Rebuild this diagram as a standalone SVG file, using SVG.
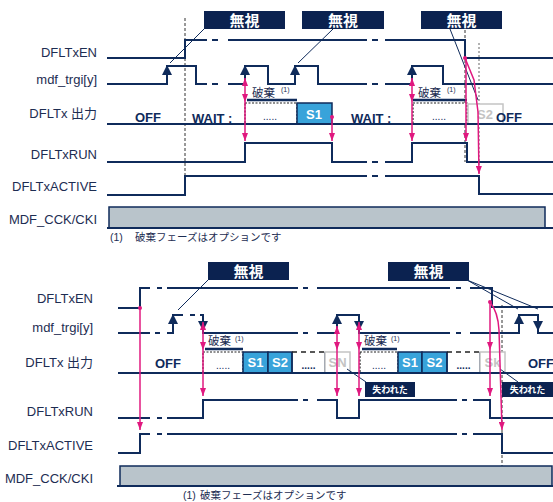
<svg xmlns="http://www.w3.org/2000/svg" width="553" height="502" viewBox="0 0 553 502">
<style>
.sig{fill:none;stroke:#0f2b5b;stroke-width:2}
.lbl{font-family:"Liberation Sans","Noto Sans CJK JP",sans-serif;font-size:13px;fill:#1d2d52;text-anchor:end}
.bt{font-family:"Liberation Sans",sans-serif;font-weight:bold;font-size:13px;fill:#0f2b5b}
.st{font-family:"Liberation Sans",sans-serif;font-weight:bold;font-size:13px;fill:#fff;text-anchor:middle}
.gt{font-family:"Liberation Sans",sans-serif;font-weight:bold;font-size:13px;fill:#c4c4c4;text-anchor:middle}
.dots{font-family:"Liberation Sans",sans-serif;font-size:10px;fill:#0f2b5b;text-anchor:middle}
.pk{stroke:#e0187f;stroke-width:1.5;fill:none}
.nb{fill:#0b2250}
.nt{font-family:"Noto Sans CJK JP",sans-serif;font-weight:bold;font-size:15px;fill:#fff;text-anchor:middle}
.lt{font-family:"Noto Sans CJK JP",sans-serif;font-weight:bold;font-size:9px;fill:#fff;text-anchor:middle}
.hk{font-family:"Noto Sans CJK JP",sans-serif;font-size:11.5px;fill:#1d2d52}
.sup{font-family:"Liberation Sans",sans-serif;font-size:7px;fill:#1d2d52}
.fn{font-family:"Liberation Sans","Noto Sans CJK JP",sans-serif;font-size:10.5px;fill:#1d2d52}
.co{stroke:#0f2b5b;stroke-width:1;fill:none}
.vd{stroke:#333;stroke-width:1;stroke-dasharray:3,2;fill:none}
.dbx{fill:#fff;stroke:#222;stroke-width:1.2;stroke-dasharray:2,1.5}
.blue{fill:#38a3da;stroke:#0f2b5b;stroke-width:1.5}
.grey{fill:#fff;stroke:#c4c4c4;stroke-width:1.5}
.ul{stroke:#0f2b5b;stroke-width:2.5}
.cck{fill:#b9c4cb;stroke:#0f2b5b;stroke-width:1.5}
</style>
<defs>
<marker id="pa" viewBox="0 0 8 6" refX="8" refY="3" markerWidth="8" markerHeight="6" markerUnits="userSpaceOnUse" orient="auto-start-reverse"><path d="M0,0 L8,3 L0,6 z" fill="#e0187f"/></marker>
<path id="tu" d="M0,0 L5,10 L-5,10 Z" fill="#0f2b5b"/>
<path id="td" d="M0,0 L5,-10 L-5,-10 Z" fill="#0f2b5b"/>
</defs>

<!-- ================= TOP DIAGRAM ================= -->
<g id="top-labels">
<text class="lbl" x="97" y="57">DFLTxEN</text>
<text class="lbl" x="97" y="84">mdf_trgi[y]</text>
<text class="lbl" x="97" y="118">DFLTx 出力</text>
<text class="lbl" x="97" y="159">DFLTxRUN</text>
<text class="lbl" x="97" y="191">DFLTxACTIVE</text>
<text class="lbl" x="97" y="224">MDF_CCK/CKI</text>
</g>

<g id="top-guides">
<path class="vd" d="M185,18 V197"/>
<path class="vd" d="M465,25 V162"/>
<path d="M479,43 V195" stroke="#999" stroke-width="1.5" stroke-dasharray="2,2" fill="none"/>
</g>

<g id="top-en"><path class="sig" d="M107,58 H185 V40 H207 M212,40 H218 M228,40 H367 M372,40 H378 M385,40 H465 V58 H553"/></g>
<g id="top-trgi">
<path class="sig" d="M107,84 H167 V66 H196 V84 H207 M212,84 H218 M228,84 H245 V66 H268 V84 H295 V66 H318 V84 H367 M372,84 H378 M385,84 H412 V66 H443 V84 H553"/>
<use href="#tu" x="167" y="65"/><use href="#tu" x="245" y="65"/><use href="#tu" x="295" y="65"/><use href="#tu" x="412" y="65"/>
</g>

<g id="top-out">
<rect class="dbx" x="245" y="103" width="52" height="21"/>
<text class="dots" x="270" y="120">.....</text>
<rect class="blue" x="297" y="103" width="35" height="21"/>
<text class="st" x="314" y="119">S1</text>
<rect class="dbx" x="413" y="103" width="54" height="21"/>
<text class="dots" x="439" y="120">.....</text>
<rect class="grey" x="468" y="104" width="35" height="20"/>
<text class="gt" x="485" y="119">S2</text>
<path class="sig" d="M107,124 H553"/>
<text class="bt" x="135" y="122">OFF</text>
<text class="bt" x="192" y="123">WAIT :</text>
<text class="bt" x="351" y="123">WAIT :</text>
<text class="bt" x="496" y="122">OFF</text>
<line class="ul" x1="247" y1="100" x2="297" y2="100"/>
<text class="hk" x="252" y="97">破棄</text><text class="sup" x="281" y="92">(1)</text>
<line class="ul" x1="413" y1="100" x2="467" y2="100"/>
<text class="hk" x="418" y="97">破棄</text><text class="sup" x="447" y="92">(1)</text>
</g>

<g id="top-run"><path class="sig" d="M107,162 H245 V143 H332 V162 H367 M372,162 H378 M385,162 H412 V143 H467 V162 H553"/></g>
<g id="top-active"><path class="sig" d="M107,195 H185 V176 H367 M372,176 H378 M385,176 H479 V194 H553"/></g>
<g id="top-cck">
<rect class="cck" x="109" y="207" width="436" height="21"/>
<path class="sig" d="M107,228 H553"/>
</g>
<text id="top-note" class="fn" x="110" y="241">(1) <tspan x="135">破棄フェーズはオプションです</tspan></text>

<g id="top-ignore1"><rect class="nb" x="204" y="11" width="81" height="18"/><text class="nt" x="244.5" y="25.5">無視</text></g>
<g id="top-ignore2"><rect class="nb" x="302" y="11" width="82" height="18"/><text class="nt" x="343" y="25.5">無視</text></g>
<g id="top-ignore3"><rect class="nb" x="421" y="11" width="81" height="18"/><text class="nt" x="461.5" y="25.5">無視</text></g>

<g id="top-connectors">
<path class="co" d="M204,29 L170,63"/>
<path class="co" d="M333,29 L298,63"/>
<path class="co" d="M450,29 L478,100"/>
<path class="pk" d="M245,78 V102" marker-start="url(#pa)" marker-end="url(#pa)"/>
<path class="pk" d="M245,102 V141" marker-end="url(#pa)"/>
<circle cx="332" cy="117" r="2" fill="#e0187f"/>
<path class="pk" d="M332,117 V141" marker-end="url(#pa)"/>
<path class="pk" d="M412,78 V102" marker-start="url(#pa)" marker-end="url(#pa)"/>
<path class="pk" d="M412,102 V141" marker-end="url(#pa)"/>
<circle cx="465" cy="58" r="2" fill="#e0187f"/>
<path class="pk" d="M466,58 V141" marker-end="url(#pa)"/>
<path class="pk" d="M465,58 L474,80 L478,112 L479,174" marker-end="url(#pa)"/>
</g>

<!-- ================= BOTTOM DIAGRAM ================= -->
<g id="bot-labels">
<text class="lbl" x="93" y="303">DFLTxEN</text>
<text class="lbl" x="93" y="332">mdf_trgi[y]</text>
<text class="lbl" x="93" y="367">DFLTx 出力</text>
<text class="lbl" x="93" y="416">DFLTxRUN</text>
<text class="lbl" x="93" y="450">DFLTxACTIVE</text>
<text class="lbl" x="93" y="483">MDF_CCK/CKI</text>
</g>

<g id="bot-guides"><path class="vd" d="M502,305 V467"/></g>

<g id="bot-en"><path class="sig" d="M118,308 H140 V288 H150 M157,288 H162 M167,288 H298 M303,288 H308 M317,288 H450 M456,288 H461 M470,288 H492 V307 H553"/></g>
<g id="bot-trgi">
<path class="sig" d="M118,333 H150 M155,333 H160 M167,333 H173 V315 H183 M190,315 H195 M200,315 H203 V333 H298 M303,333 H308 M317,333 H337 V315 H359 V333 H450 M456,333 H461 M470,333 H519 V315 H538 V333 H553"/>
<use href="#tu" x="173" y="314"/><use href="#td" x="203" y="331"/>
<use href="#tu" x="337" y="314"/><use href="#td" x="359" y="331"/>
<use href="#tu" x="519" y="314"/><use href="#td" x="538" y="331"/>
</g>

<g id="bot-out">
<rect class="dbx" x="203" y="352" width="40" height="21"/>
<text class="dots" x="223" y="369">.....</text>
<rect class="blue" x="243" y="352" width="25" height="21"/><text class="st" x="255.5" y="367">S1</text>
<rect class="blue" x="268" y="352" width="24" height="21"/><text class="st" x="280" y="367">S2</text>
<path d="M292,373 V352 M325,352 V373" stroke="#0f2b5b" stroke-width="1.5" fill="none"/>
<path d="M292,352 H325" stroke="#222" stroke-width="1.5" stroke-dasharray="5,4" fill="none"/>
<text class="dots" x="308.5" y="369" font-weight="bold">.....</text>
<rect class="grey" x="325" y="352" width="25" height="21"/><text class="gt" x="337.5" y="367">SN</text>
<rect class="dbx" x="360" y="352" width="38" height="21"/>
<text class="dots" x="379" y="369">.....</text>
<rect class="blue" x="398" y="352" width="24" height="21"/><text class="st" x="410" y="367">S1</text>
<rect class="blue" x="422" y="352" width="25" height="21"/><text class="st" x="434.5" y="367">S2</text>
<path d="M447,373 V352 M480,352 V373" stroke="#0f2b5b" stroke-width="1.5" fill="none"/>
<path d="M447,352 H480" stroke="#222" stroke-width="1.5" stroke-dasharray="5,4" fill="none"/>
<text class="dots" x="463.5" y="369" font-weight="bold">.....</text>
<rect class="grey" x="480" y="352" width="25" height="21"/><text class="gt" x="492.5" y="367">Sk</text>
<path class="sig" d="M118,373 H553"/>
<text class="bt" x="155" y="368">OFF</text>
<text class="bt" x="528" y="368">OFF</text>
<line class="ul" x1="205" y1="349" x2="243" y2="349"/>
<text class="hk" x="208" y="345">破棄</text><text class="sup" x="235" y="341">(1)</text>
<line class="ul" x1="362" y1="349" x2="397" y2="349"/>
<text class="hk" x="364" y="345">破棄</text><text class="sup" x="391" y="341">(1)</text>
</g>

<g id="bot-run"><path class="sig" d="M118,418 H150 M157,418 H162 M167,418 H203 V400 H298 M303,400 H308 M317,400 H337 V418 H359 V400 H457 M462,400 H467 M473,400 H490 V418 H553"/></g>
<g id="bot-active"><path class="sig" d="M118,453 H140 V434 H150 M157,434 H162 M167,434 H457 M462,434 H467 M473,434 H502 V453 H553"/></g>
<g id="bot-cck">
<rect class="cck" x="120" y="466" width="432" height="20"/>
<path class="sig" d="M117,486 H553"/>
</g>
<text id="bot-note" class="fn" x="183" y="499">(1) <tspan x="200">破棄フェーズはオプションです</tspan></text>

<g id="bot-ignore1"><rect class="nb" x="208" y="262" width="81" height="18"/><text class="nt" x="248.5" y="276.5">無視</text></g>
<g id="bot-ignore2"><rect class="nb" x="388" y="262" width="81" height="19"/><text class="nt" x="428.5" y="277">無視</text></g>
<g id="bot-lost1"><rect class="nb" x="365" y="382" width="50" height="15"/><text class="lt" x="390" y="393">失われた</text></g>
<g id="bot-lost2"><rect class="nb" x="502" y="382" width="51" height="15"/><text class="lt" x="527.5" y="393">失われた</text></g>

<g id="bot-connectors">
<path class="co" d="M208,280 L178,310"/>
<path class="co" d="M467,280 L518,309 M467,280 L538,309"/>
<path class="co" d="M347,369 L366,382"/>
<path class="co" d="M500,369 L518,382"/>
<circle cx="140" cy="308" r="2" fill="#e0187f"/>
<path class="pk" d="M140,308 V430" marker-end="url(#pa)"/>
<path class="pk" d="M203,322 V350" marker-start="url(#pa)" marker-end="url(#pa)"/>
<path class="pk" d="M203,350 V396" marker-end="url(#pa)"/>
<path class="pk" d="M337,326 V350" marker-start="url(#pa)" marker-end="url(#pa)"/>
<path class="pk" d="M337,350 V396" marker-end="url(#pa)"/>
<path class="pk" d="M359,322 V350" marker-start="url(#pa)" marker-end="url(#pa)"/>
<path class="pk" d="M359,350 V396" marker-end="url(#pa)"/>
<circle cx="490" cy="302" r="2" fill="#e0187f"/>
<path class="pk" d="M490,302 V350" marker-end="url(#pa)"/>
<path class="pk" d="M490,350 V396" marker-end="url(#pa)"/>
<path class="pk" d="M490,302 Q498,312 499,330 L502,430" marker-end="url(#pa)"/>
</g>
</svg>
